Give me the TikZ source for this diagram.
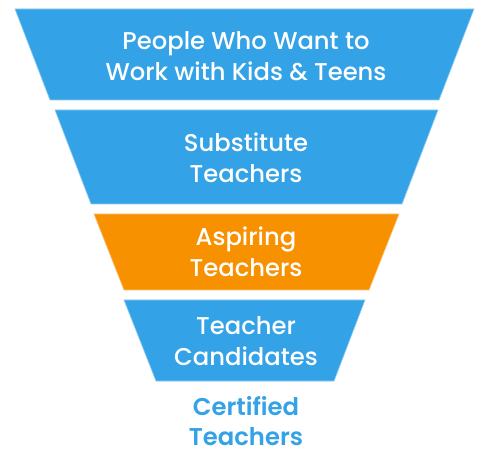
\documentclass[tikz,border=0pt]{standalone}
\usepackage{fontspec}
\setmainfont{Poppins}[UprightFont=* Medium,BoldFont=* SemiBold]
\definecolor{fblue}{HTML}{33A2E6}
\definecolor{fedge}{HTML}{8CCBF2}
\definecolor{forange}{HTML}{F79100}
\definecolor{fedgeo}{HTML}{FBC07A}
\begin{document}
\begin{tikzpicture}[x=0.75pt,y=-0.75pt,
  seg/.style={fill=fblue,draw=fedge,line width=0.5pt},
  sego/.style={fill=forange,draw=fedgeo,line width=0.5pt},
  lab/.style={text=white,align=center,font=\fontsize{18.2}{23.2}\selectfont},
  endlab/.style={text=fblue,align=center,font=\fontsize{18.2}{22.5}\selectfont\bfseries}]
\useasboundingbox (0,0) rectangle (482,452);
\fill[white] (0,0) rectangle (482,452);
\draw[seg] (15,9) -- (474,9) -- (439,100) -- (50,100) -- cycle;
\draw[seg] (55,110) -- (438,110) -- (402,204) -- (91,204) -- cycle;
\draw[sego] (94,214) -- (399,214) -- (369,290) -- (124,290) -- cycle;
\draw[seg] (124,300) -- (365,300) -- (334,381) -- (156,381) -- cycle;
\node[lab] (l1) at (246,56) {People Who Want to\\Work with Kids \& Teens};
\node[lab] (l2) at (246,158) {Substitute\\Teachers};
\node[lab] (l3) at (246,252) {Aspiring\\Teachers};
\node[lab] (l4) at (246,341) {Teacher\\Candidates};
\node[endlab] (l5) at (246,421) {Certified\\Teachers};
\end{tikzpicture}
\end{document}
